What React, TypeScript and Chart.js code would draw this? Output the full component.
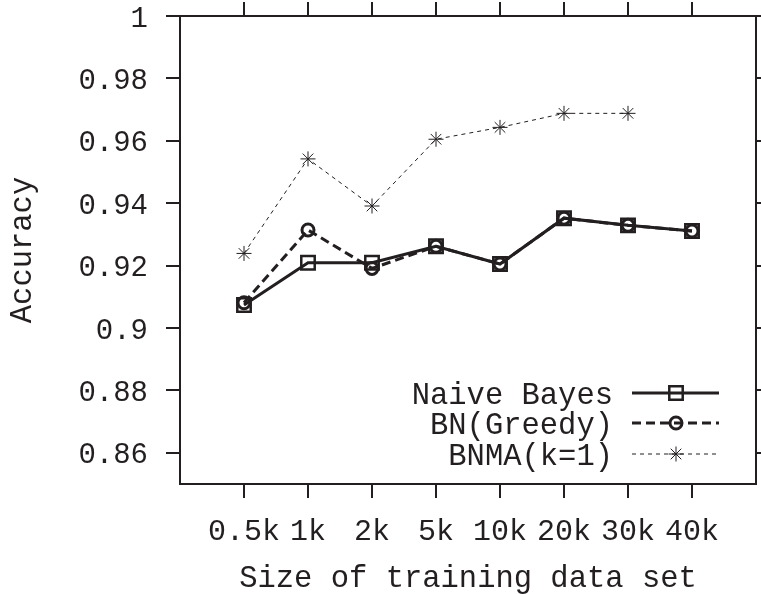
import React, { useEffect, useRef } from 'react';
import { Chart, registerables } from 'chart.js';

Chart.register(...registerables);

// ---- data ----
const categories = ['0.5k', '1k', '2k', '5k', '10k', '20k', '30k', '40k'];
const naiveBayes = [0.9074, 0.9209, 0.9209, 0.9262, 0.9205, 0.9352, 0.9329, 0.9311];
const bnGreedy = [0.9081, 0.9314, 0.9191, 0.9262, 0.9205, 0.9352, 0.9329, 0.9311];
const bnma = [0.9239, 0.9542, 0.9391, 0.9605, 0.9643, 0.9688, 0.9688];
const seriesLabels = ['Naive Bayes', 'BN(Greedy)', 'BNMA(k=1)'];
const yTicks = [0.86, 0.88, 0.9, 0.92, 0.94, 0.96, 0.98, 1];
const yTickLabels = ['0.86', '0.88', '0.9', '0.92', '0.94', '0.96', '0.98', '1'];
const xTitle = 'Size of training data set';
const yTitle = 'Accuracy';

const INK = '#231f20';
const FONT = '"Liberation Mono", "Courier New", monospace';
const FSIZE = 29;
const BIG = 30.5;

const toPoints = (vals: number[]) => vals.map((v, i) => ({ x: i + 1, y: v }));

function drawMarker(ctx: CanvasRenderingContext2D, style: string, x: number, y: number, r: number, lw: number) {
  ctx.save();
  ctx.setLineDash([]);
  ctx.lineWidth = lw;
  ctx.strokeStyle = INK;
  ctx.beginPath();
  if (style === 'rect') {
    const s = r * Math.SQRT1_2;
    ctx.rect(x - s, y - s, 2 * s, 2 * s);
  } else if (style === 'circle') {
    ctx.arc(x, y, r, 0, Math.PI * 2);
  } else {
    for (let k = 0; k < 4; k++) {
      const a = (k * Math.PI) / 4;
      ctx.moveTo(x - Math.cos(a) * r, y - Math.sin(a) * r);
      ctx.lineTo(x + Math.cos(a) * r, y + Math.sin(a) * r);
    }
  }
  ctx.stroke();
  ctx.restore();
}

const gnuLegend = {
  id: 'gnuLegend',
  afterDatasetsDraw(chart: any) {
    const ctx: CanvasRenderingContext2D = chart.ctx;
    const { right, bottom } = chart.chartArea;
    const rows = [bottom - 91, bottom - 61, bottom - 30];
    chart.data.datasets.forEach((ds: any, i: number) => {
      const y = rows[i];
      ctx.save();
      ctx.font = `${BIG}px ${FONT}`;
      ctx.fillStyle = INK;
      ctx.textAlign = 'right';
      ctx.textBaseline = 'alphabetic';
      ctx.fillText(ds.label, right - 143, y + 10.5);
      ctx.strokeStyle = INK;
      ctx.lineWidth = ds.borderWidth;
      ctx.setLineDash(ds.borderDash || []);
      ctx.beginPath();
      ctx.moveTo(right - 124, y);
      ctx.lineTo(right - 37, y);
      ctx.stroke();
      ctx.restore();
      drawMarker(ctx, ds.pointStyle, right - 80, y, ds.pointRadius, ds.pointBorderWidth);
    });
  },
};

const zeroPad = (s: any) => {
  s.paddingTop = 0;
  s.paddingBottom = 0;
  s.paddingLeft = 0;
  s.paddingRight = 0;
};

export default function App() {
  const ref = useRef<HTMLCanvasElement | null>(null);
  useEffect(() => {
    if (!ref.current) return;
    Chart.defaults.font.family = FONT;
    Chart.defaults.font.size = FSIZE;
    Chart.defaults.color = INK;
    const xTickVals = categories.map((_, i) => i + 1);
    const gridOpts = {
      display: true,
      drawOnChartArea: false,
      drawTicks: true,
      tickLength: 14,
      lineWidth: 2,
      color: INK,
    };
    const borderOpts = { display: true, width: 2, color: INK };
    const setX = (s: any) => { s.ticks = xTickVals.map((v) => ({ value: v })); };
    const setY = (s: any) => { s.ticks = yTicks.map((v) => ({ value: v })); };
    const chart = new Chart(ref.current, {
      type: 'line',
      data: {
        datasets: [
          {
            label: seriesLabels[0],
            data: toPoints(naiveBayes),
            borderColor: INK,
            backgroundColor: 'transparent',
            borderWidth: 3,
            borderDash: [],
            pointStyle: 'rect',
            pointRadius: 9.5,
            pointBorderWidth: 2.5,
            pointBorderColor: INK,
            pointBackgroundColor: 'transparent',
            order: 3,
          },
          {
            label: seriesLabels[1],
            data: toPoints(bnGreedy),
            borderColor: INK,
            backgroundColor: 'transparent',
            borderWidth: 3,
            borderDash: [9, 5],
            pointStyle: 'circle',
            pointRadius: 6,
            pointBorderWidth: 3,
            pointBorderColor: INK,
            pointBackgroundColor: 'transparent',
            order: 2,
          },
          {
            label: seriesLabels[2],
            data: toPoints(bnma),
            borderColor: INK,
            backgroundColor: 'transparent',
            borderWidth: 1,
            borderDash: [4, 4],
            pointStyle: 'star',
            pointRadius: 7.5,
            pointBorderWidth: 1,
            pointBorderColor: INK,
            pointBackgroundColor: 'transparent',
            order: 1,
          },
        ] as any,
      },
      options: {
        animation: false,
        responsive: false,
        layout: { padding: 0, autoPadding: false },
        plugins: { legend: { display: false }, tooltip: { enabled: false } },
        elements: { line: { tension: 0 } },
        scales: {
          x: {
            type: 'linear',
            position: 'bottom',
            min: 0,
            max: 9,
            grid: gridOpts,
            border: borderOpts,
            afterBuildTicks: setX,
            afterFit: (s: any) => { s.height = 110; zeroPad(s); },
            ticks: {
              autoSkip: false,
              maxRotation: 0,
              minRotation: 0,
              padding: 16,
              font: { size: 30 },
              callback: (v: any) => categories[Math.round(v) - 1] ?? '',
            },
            title: {
              display: true,
              text: xTitle,
              font: { size: BIG, lineHeight: 1 },
              padding: { top: 0, bottom: 0 },
            },
          },
          x2: {
            type: 'linear',
            position: 'top',
            min: 0,
            max: 9,
            grid: gridOpts,
            border: borderOpts,
            afterBuildTicks: setX,
            afterFit: (s: any) => { s.height = 16; zeroPad(s); },
            ticks: { display: false },
          },
          y: {
            type: 'linear',
            position: 'left',
            min: 0.85,
            max: 1,
            grid: gridOpts,
            border: borderOpts,
            afterBuildTicks: setY,
            afterFit: (s: any) => { s.width = 180; zeroPad(s); },
            ticks: {
              padding: 18,
              labelOffset: 3,
              callback: (_v: any, i: number) => yTickLabels[i],
            },
            title: {
              display: true,
              text: yTitle,
              font: { size: BIG, lineHeight: 1 },
              padding: { top: 7.75, bottom: 0 },
            },
          },
          y2: {
            type: 'linear',
            position: 'right',
            min: 0.85,
            max: 1,
            grid: gridOpts,
            border: borderOpts,
            afterBuildTicks: setY,
            afterFit: (s: any) => { s.width = 5; zeroPad(s); },
            ticks: { display: false },
          },
        },
      } as any,
      plugins: [gnuLegend],
    });
    return () => chart.destroy();
  }, []);
  return (
    <div style={{ position: 'absolute', left: 0, top: 0, width: 761, height: 594, background: '#fff' }}>
      <canvas ref={ref} width={761} height={594} style={{ display: 'block' }} />
    </div>
  );
}
